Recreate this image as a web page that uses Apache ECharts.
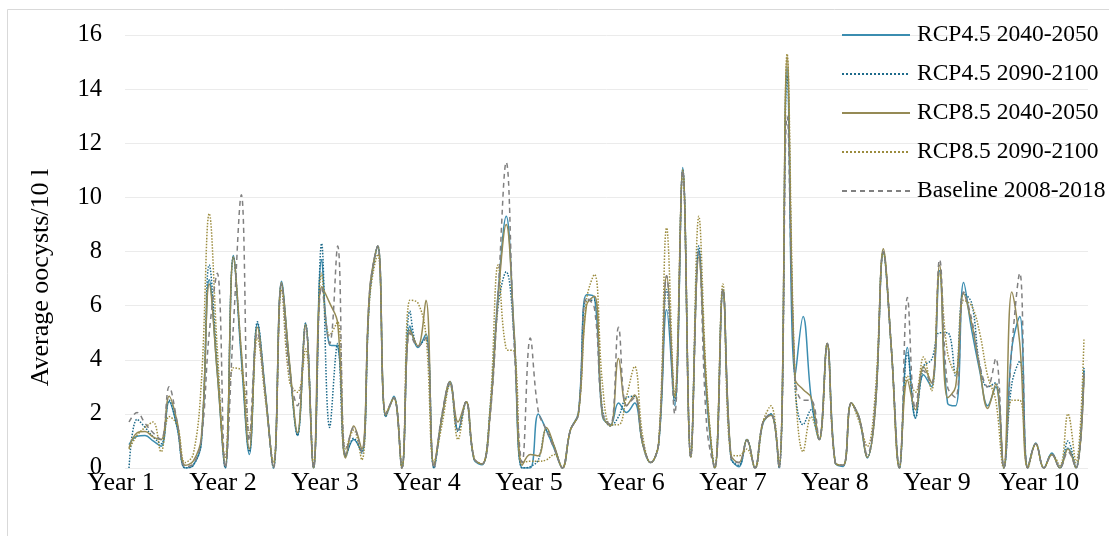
<!DOCTYPE html>
<html>
<head>
<meta charset="utf-8">
<script src="https://cdn.jsdelivr.net/npm/echarts@6/dist/echarts.min.js"></script>
<style>
  html, body { margin: 0; padding: 0; background: #ffffff; }
  #chart { width: 1109px; height: 536px; }
</style>
</head>
<body>
<div id="chart"></div>
<script>
// ---- data ----
const yearLabels = ["Year 1","Year 2","Year 3","Year 4","Year 5","Year 6","Year 7","Year 8","Year 9","Year 10"];
const yTicks = [0, 2, 4, 6, 8, 10, 12, 14, 16];
const seriesNames = ["RCP4.5 2040-2050","RCP4.5 2090-2100","RCP8.5 2040-2050","RCP8.5 2090-2100","Baseline 2008-2018"];

const rcp45_2040 = [0.86,1.17,1.2,1.0,0.8,2.46,1.5,0,0.1,0.9,6.96,3.5,
  0,7.85,4.0,0.5,5.35,2.8,0,6.9,3.8,1.2,5.35,0,
  7.7,4.55,4.5,0.43,1.05,0.6,6.5,8.2,1.9,2.65,0,5.25,
  4.45,4.95,0,1.9,3.2,1.4,2.45,0.3,0.12,2.15,6.5,9.3,
  4.9,0,0,2.0,1.4,0.7,0,1.4,2.05,6.4,6.3,1.9,
  1.6,2.4,2.05,2.4,0.9,0.2,0.9,5.85,2.3,11.1,0.43,8.05,
  2.5,0,6.6,0.4,0.05,1.05,0,1.65,2.0,0,14.8,3.4,
  5.6,2.6,1.05,4.6,0.2,0.06,2.4,1.8,0.37,2.3,7.95,4.4,
  0,4.45,1.85,3.45,3.0,7.3,2.4,2.3,6.85,5.1,3.6,2.3,
  3.0,0,4.4,5.6,0,0.92,0,0.55,0,0.74,0,3.6];

const rcp45_2090 = [0,1.8,1.5,1.15,0.9,2.5,1.5,0,0.1,0.95,7.5,3.8,
  0,7.8,4.2,0.6,5.4,2.7,0,6.8,3.8,1.2,5.35,0,
  8.3,1.5,4.6,0.4,1.1,0.55,6.4,8.2,1.9,2.6,0,5.8,
  4.5,4.8,0,1.9,3.1,1.35,2.45,0.35,0.15,2.1,6.0,7.25,
  4.8,0,0.05,0.3,1.4,0.8,0,1.4,2.0,6.2,6.2,2.15,
  1.55,1.9,2.6,2.65,0.9,0.2,0.9,6.6,2.5,11.0,0.4,8.2,
  2.8,0,6.6,0.35,0.1,1.05,0,1.7,2.0,0,14.5,3.0,
  1.6,2.15,1.05,4.6,0.2,0.1,2.4,1.85,0.4,2.2,8.0,4.4,
  0,4.25,1.85,3.75,4.0,5.0,5.0,3.4,6.45,6.1,3.8,3.0,
  3.15,0,3.1,3.95,0,0.9,0,0.5,0,1.0,0,3.7];

const rcp85_2040 = [0.74,1.3,1.35,1.15,1.05,2.65,1.7,0.1,0.25,1.1,6.8,3.5,
  0.1,7.8,4.3,0.7,5.2,2.7,0.05,6.85,3.9,1.3,5.3,0,
  6.7,6.1,5.35,0.37,1.55,0.7,6.6,8.2,1.95,2.6,0,5.1,
  4.5,6.2,0.1,1.9,3.2,1.7,2.45,0.35,0.15,2.0,6.3,9.0,
  5.0,0.1,0.5,0.45,1.5,0.8,0,1.4,2.0,6.0,6.35,1.95,
  1.55,4.05,2.3,2.7,0.9,0.2,0.9,7.1,2.65,11.0,0.4,7.8,
  2.8,0,6.6,0.5,0.2,1.05,0,1.7,1.95,0.05,15.2,3.3,
  2.9,2.6,1.05,4.6,0.2,0.1,2.4,1.85,0.4,2.2,8.1,4.4,
  0,3.25,2.15,3.75,3.15,7.5,2.6,3.0,6.45,5.35,3.7,2.2,
  3.1,0,6.5,4.6,0,0.9,0,0.5,0,0.7,0,3.4];

const rcp85_2090 = [0.7,1.2,1.5,1.7,0.6,1.9,1.6,0.2,0.5,3.1,9.4,4.4,
  0.4,3.7,3.6,1.3,4.8,2.5,0.2,6.6,3.2,2.8,4.4,0.1,
  7.2,4.9,5.4,0.7,1.4,0.3,6.3,7.9,2.0,2.6,0,6.2,
  6.1,4.9,0.2,1.6,3.1,1.05,2.45,0.35,0.15,2.3,7.5,4.4,
  4.3,0.2,0.25,0.25,0.3,0.5,0,1.4,2.0,6.2,7.15,3.1,
  1.6,1.6,2.65,3.75,1.2,0.2,0.95,8.87,2.6,11.0,0.4,9.3,
  3.0,0,6.8,0.5,0.45,0.7,0,1.7,2.3,0.1,15.3,3.3,
  0.6,1.9,1.05,4.6,0.2,0.1,2.4,1.7,0.8,2.8,7.95,4.4,
  0,3.4,2.8,4.1,2.85,7.2,4.25,3.5,6.2,6.0,5.0,3.4,
  2.5,0,2.5,2.5,0,0.9,0,0.5,0.1,2.0,0.2,4.8];

const baseline = [1.7,2.05,1.65,1.3,1.05,3.0,1.7,0.05,0.15,1.0,5.0,7.2,
  0,5.2,10.1,1.0,5.0,2.7,0,6.8,3.5,2.3,5.2,0,
  6.7,4.6,8.2,0.5,1.5,0.6,6.6,8.2,2.0,2.6,0,5.0,
  4.5,4.8,0,2.0,3.2,1.4,2.45,0.35,0.15,1.9,6.5,11.3,
  4.5,0.2,4.8,2.1,1.4,0.7,0,1.4,2.0,6.3,5.9,2.0,
  1.6,5.2,2.3,2.6,1.0,0.2,0.9,7.1,2.0,11.0,0.4,8.0,
  1.5,0,6.6,0.4,0.2,1.0,0,1.7,2.0,0,13.0,3.3,
  2.5,2.5,1.05,4.6,0.2,0.1,2.4,1.85,0.5,2.4,8.0,4.4,
  0,6.3,2.2,3.6,3.1,7.7,3.0,2.6,6.5,5.5,3.8,3.0,
  4.05,0,4.4,7.2,0,0.9,0,0.5,0,0.6,0,3.5];

const months = rcp45_2040.map((_, i) => "M" + (i + 1));

// ---- chart ----
const FONT = "'Liberation Serif', 'Times New Roman', serif";
const chart = echarts.init(document.getElementById("chart"), null, { renderer: "canvas" });

function mkSeries(name, data, color, type) {
  return {
    name: name, type: "line", data: data,
    xAxisIndex: 0, yAxisIndex: 0,
    smooth: 0.4, showSymbol: false, symbol: "none",
    lineStyle: { color: color, width: 1.5, type: type },
    itemStyle: { color: color },
    emphasis: { disabled: true }
  };
}

const option = {
  animation: false,
  backgroundColor: "#ffffff",
  textStyle: { fontFamily: FONT },
  graphic: [{
    type: "rect", silent: true, z: -1,
    shape: { x: 7.5, y: 9.5, width: 1120, height: 540 },
    style: { fill: "none", stroke: "#d9d9d9", lineWidth: 1 }
  }],
  grid: [
    { left: 125, right: 21, top: 35, bottom: 68, containLabel: false },
    { left: 121, width: 918, top: 35, bottom: 68, containLabel: false }
  ],
  legend: {
    orient: "vertical", left: 836, top: 18,
    itemWidth: 68, itemHeight: 14, itemGap: 15,
    itemStyle: { color: "rgba(0,0,0,0)", borderColor: "rgba(0,0,0,0)", borderWidth: 0 },
    textStyle: { fontFamily: FONT, fontSize: 23.5, color: "#000", padding: [0, 0, 0, 2] },
    data: seriesNames
  },
  xAxis: [
    {
      type: "category", gridIndex: 0, data: months, boundaryGap: true,
      axisLine: { show: false }, axisTick: { show: false },
      axisLabel: { show: false }, splitLine: { show: false }
    },
    {
      type: "value", gridIndex: 1, min: 0, max: yearLabels.length - 1, interval: 1,
      axisLine: { show: false }, axisTick: { show: false }, splitLine: { show: false },
      axisLabel: {
        show: true, margin: 2, fontFamily: FONT, fontSize: 26, color: "#000",
        showMinLabel: true, showMaxLabel: true,
        formatter: v => yearLabels[Math.round(v)] || ""
      }
    }
  ],
  yAxis: [
    {
      type: "value", gridIndex: 0, min: yTicks[0], max: yTicks[yTicks.length - 1], interval: 2,
      name: "Average oocysts/10 l", nameLocation: "middle", nameGap: 71, nameRotate: 90,
      nameTextStyle: { fontFamily: FONT, fontSize: 26, color: "#000", padding: [0, 52, 0, 0] },
      axisLine: { show: false }, axisTick: { show: false },
      axisLabel: { margin: 23, fontFamily: FONT, fontSize: 24.5, color: "#000" },
      splitLine: { show: true, lineStyle: { color: "#ebebeb", width: 1 } }
    },
    {
      type: "value", gridIndex: 1, min: 0, max: 1, show: false
    }
  ],
  series: [
    mkSeries(seriesNames[0], rcp45_2040, "#3b8db0", "solid"),
    mkSeries(seriesNames[1], rcp45_2090, "#1d6a8a", "dotted"),
    mkSeries(seriesNames[2], rcp85_2040, "#958a55", "solid"),
    mkSeries(seriesNames[3], rcp85_2090, "#9c8c3e", "dotted"),
    mkSeries(seriesNames[4], baseline, "#808080", [5, 4])
  ]
};
chart.setOption(option);
</script>
</body>
</html>
